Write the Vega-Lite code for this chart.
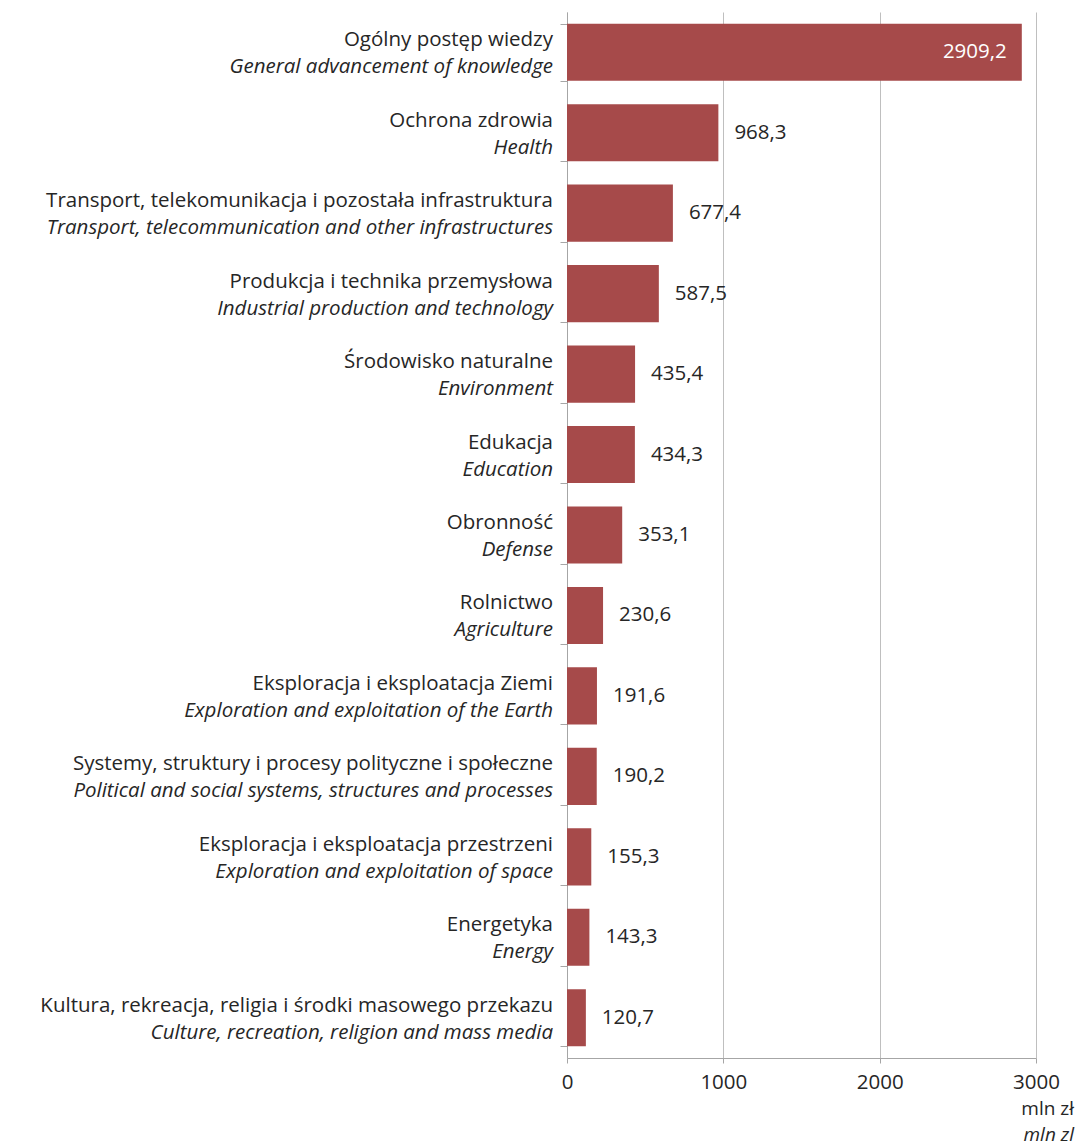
{
  "$schema": "https://vega.github.io/schema/vega-lite/v6.json",
  "width": 469,
  "height": 1046,
  "autosize": {"type": "none"},
  "padding": {"left": 567, "top": 12, "right": 41, "bottom": 90},
  "background": "white",
  "config": {
    "view": {"stroke": null},
    "font": "Open Sans",
    "locale": {"number": {"decimal": ",", "thousands": "", "grouping": [3], "currency": ["", ""]}}
  },
  "data": {"values": [
    {"pl": "Ogólny postęp wiedzy", "en": "General advancement of knowledge", "value": 2909.2},
    {"pl": "Ochrona zdrowia", "en": "Health", "value": 968.3},
    {"pl": "Transport, telekomunikacja i pozostała infrastruktura", "en": "Transport, telecommunication and other infrastructures", "value": 677.4},
    {"pl": "Produkcja i technika przemysłowa", "en": "Industrial production and technology", "value": 587.5},
    {"pl": "Środowisko naturalne", "en": "Environment", "value": 435.4},
    {"pl": "Edukacja", "en": "Education", "value": 434.3},
    {"pl": "Obronność", "en": "Defense", "value": 353.1},
    {"pl": "Rolnictwo", "en": "Agriculture", "value": 230.6},
    {"pl": "Eksploracja i eksploatacja Ziemi", "en": "Exploration and exploitation of the Earth", "value": 191.6},
    {"pl": "Systemy, struktury i procesy polityczne i społeczne", "en": "Political and social systems, structures and processes", "value": 190.2},
    {"pl": "Eksploracja i eksploatacja przestrzeni", "en": "Exploration and exploitation of space", "value": 155.3},
    {"pl": "Energetyka", "en": "Energy", "value": 143.3},
    {"pl": "Kultura, rekreacja, religia i środki masowego przekazu", "en": "Culture, recreation, religion and mass media", "value": 120.7}
  ]},
  "encoding": {
    "y": {
      "field": "pl", "type": "nominal", "sort": null,
      "scale": {"paddingInner": 0.29, "paddingOuter": 0.145},
      "axis": {"title": null, "labels": false, "tickBand": "extent", "tickSize": 7, "domainColor": "#A6A6A6", "tickColor": "#A6A6A6", "grid": false}
    }
  },
  "layer": [
    {
      "mark": {"type": "bar", "color": "#A64A4A"},
      "encoding": {
        "x": {
          "field": "value", "type": "quantitative",
          "scale": {"domain": [0, 3000], "nice": false},
          "axis": {"title": null, "values": [0, 1000, 2000, 3000], "format": "d", "grid": true, "gridColor": "#BFBFBF", "domainColor": "#A6A6A6", "tickColor": "#A6A6A6", "tickSize": 5, "labelFontSize": 20.5, "labelColor": "#262626", "labelPadding": 9, "labelFlush": false, "labelFont": "Open Sans"}
        }
      }
    },
    {
      "mark": {"type": "text", "align": "right", "baseline": "middle", "dx": -14, "dy": -12, "fontSize": 20.5, "color": "#262626"},
      "encoding": {"x": {"datum": 0}, "text": {"field": "pl"}}
    },
    {
      "mark": {"type": "text", "align": "right", "baseline": "middle", "dx": -14, "dy": 15, "fontSize": 20.5, "fontStyle": "italic", "color": "#262626"},
      "encoding": {"x": {"datum": 0}, "text": {"field": "en"}}
    },
    {
      "transform": [{"filter": "datum.value < 2000"}],
      "mark": {"type": "text", "align": "left", "baseline": "middle", "dx": 16, "fontSize": 20.5, "color": "#262626"},
      "encoding": {"x": {"field": "value", "type": "quantitative"}, "text": {"field": "value", "type": "quantitative", "format": ".1f"}}
    },
    {
      "transform": [{"filter": "datum.value >= 2000"}],
      "mark": {"type": "text", "align": "right", "baseline": "middle", "dx": -15, "fontSize": 20.5, "color": "white"},
      "encoding": {"x": {"field": "value", "type": "quantitative"}, "text": {"field": "value", "type": "quantitative", "format": ".1f"}}
    },
    {
      "data": {"values": [{"t": "mln zł"}]},
      "mark": {"type": "text", "align": "right", "baseline": "middle", "dx": 38, "dy": 91, "fontSize": 19, "color": "#262626"},
      "encoding": {"x": {"datum": 3000}, "y": {"datum": "Kultura, rekreacja, religia i środki masowego przekazu"}, "text": {"field": "t"}}
    },
    {
      "data": {"values": [{"t": "mln zl"}]},
      "mark": {"type": "text", "align": "right", "baseline": "middle", "dx": 38, "dy": 117, "fontSize": 19, "fontStyle": "italic", "color": "#262626"},
      "encoding": {"x": {"datum": 3000}, "y": {"datum": "Kultura, rekreacja, religia i środki masowego przekazu"}, "text": {"field": "t"}}
    }
  ]
}
